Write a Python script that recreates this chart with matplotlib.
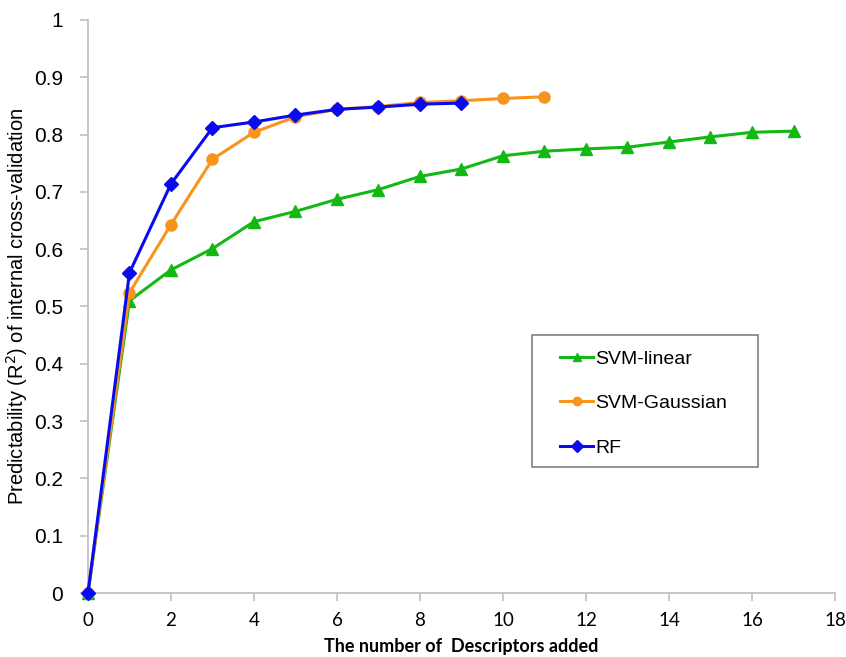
import matplotlib
matplotlib.use("Agg")
import matplotlib.pyplot as plt
from matplotlib.patches import Rectangle

# descriptors added vs. R2 of internal cross-validation
x_linear = list(range(0, 18))
r2_linear = [0.0, 0.510, 0.564, 0.601, 0.648, 0.666, 0.687, 0.704, 0.727, 0.740,
             0.763, 0.771, 0.775, 0.778, 0.787, 0.796, 0.804, 0.806]

x_gauss = list(range(0, 12))
r2_gauss = [0.0, 0.524, 0.643, 0.757, 0.804, 0.831, 0.844, 0.849, 0.856, 0.859,
            0.863, 0.866]

x_rf = list(range(0, 10))
r2_rf = [0.0, 0.559, 0.714, 0.812, 0.822, 0.834, 0.844, 0.848, 0.853, 0.855]

x_ticks = list(range(0, 19, 2))
y_ticks = [0, 0.1, 0.2, 0.3, 0.4, 0.5, 0.6, 0.7, 0.8, 0.9, 1]
y_tick_labels = ["0", "0.1", "0.2", "0.3", "0.4", "0.5", "0.6", "0.7", "0.8", "0.9", "1"]

narrow = ["Lato", "DejaVu Sans"]
plt.rcParams["font.family"] = ["Liberation Sans", "DejaVu Sans"]

fig = plt.figure(figsize=(8.46, 6.57), dpi=100)
ax = fig.add_axes([0.104, 0.0974, 0.883, 0.8722])

ax.plot(x_linear, r2_linear, color="#14b814", lw=2.2, marker="^", ms=9,
        label="SVM-linear", clip_on=False, zorder=3)
ax.plot(x_gauss, r2_gauss, color="#f7941d", lw=2.2, marker="o", ms=8,
        label="SVM-Gaussian", clip_on=False, zorder=4)
ax.plot(x_rf, r2_rf, color="#0a0af0", lw=2.2, marker="D", ms=7.5,
        label="RF", clip_on=False, zorder=5)

ax.set_xlim(0, 18)
ax.set_ylim(0, 1)
ax.set_xticks(x_ticks)
ax.set_yticks(y_ticks)
ax.set_yticklabels(y_tick_labels)

for side in ["top", "right"]:
    ax.spines[side].set_visible(False)
for side in ["left", "bottom"]:
    ax.spines[side].set_color("#c0c0c0")
    ax.spines[side].set_linewidth(1.3)

ax.tick_params(axis="y", direction="out", length=6, width=1.2, color="#c0c0c0",
               labelsize=15, pad=12)
ax.tick_params(axis="x", direction="out", length=6, width=1.2, color="#c0c0c0",
               labelsize=13.5, pad=8)
for lbl in ax.get_xticklabels():
    lbl.set_family(narrow)

ax.set_ylabel("Predictability (R$^2$) of internal cross-validation", fontsize=14.5)
ax.yaxis.set_label_coords(-0.078, 0.5)
ax.set_xlabel("The number of  Descriptors added", fontsize=13, fontweight="bold",
              family=narrow, labelpad=6)

# legend box drawn separately so the padding can differ per side
ax.add_patch(Rectangle((0.594, 0.220), 0.303, 0.230, transform=ax.transAxes,
                       fill=False, edgecolor="#808080", lw=1.2, zorder=6))
leg = ax.legend(loc="upper left", bbox_to_anchor=(0.632, 0.424), fontsize=14,
                frameon=False, borderpad=0, labelspacing=1.38,
                handlelength=1.7, handletextpad=0.1, borderaxespad=0)
for h in leg.legend_handles:
    h.set_markersize(6)

fig.savefig("out.png", dpi=100)
